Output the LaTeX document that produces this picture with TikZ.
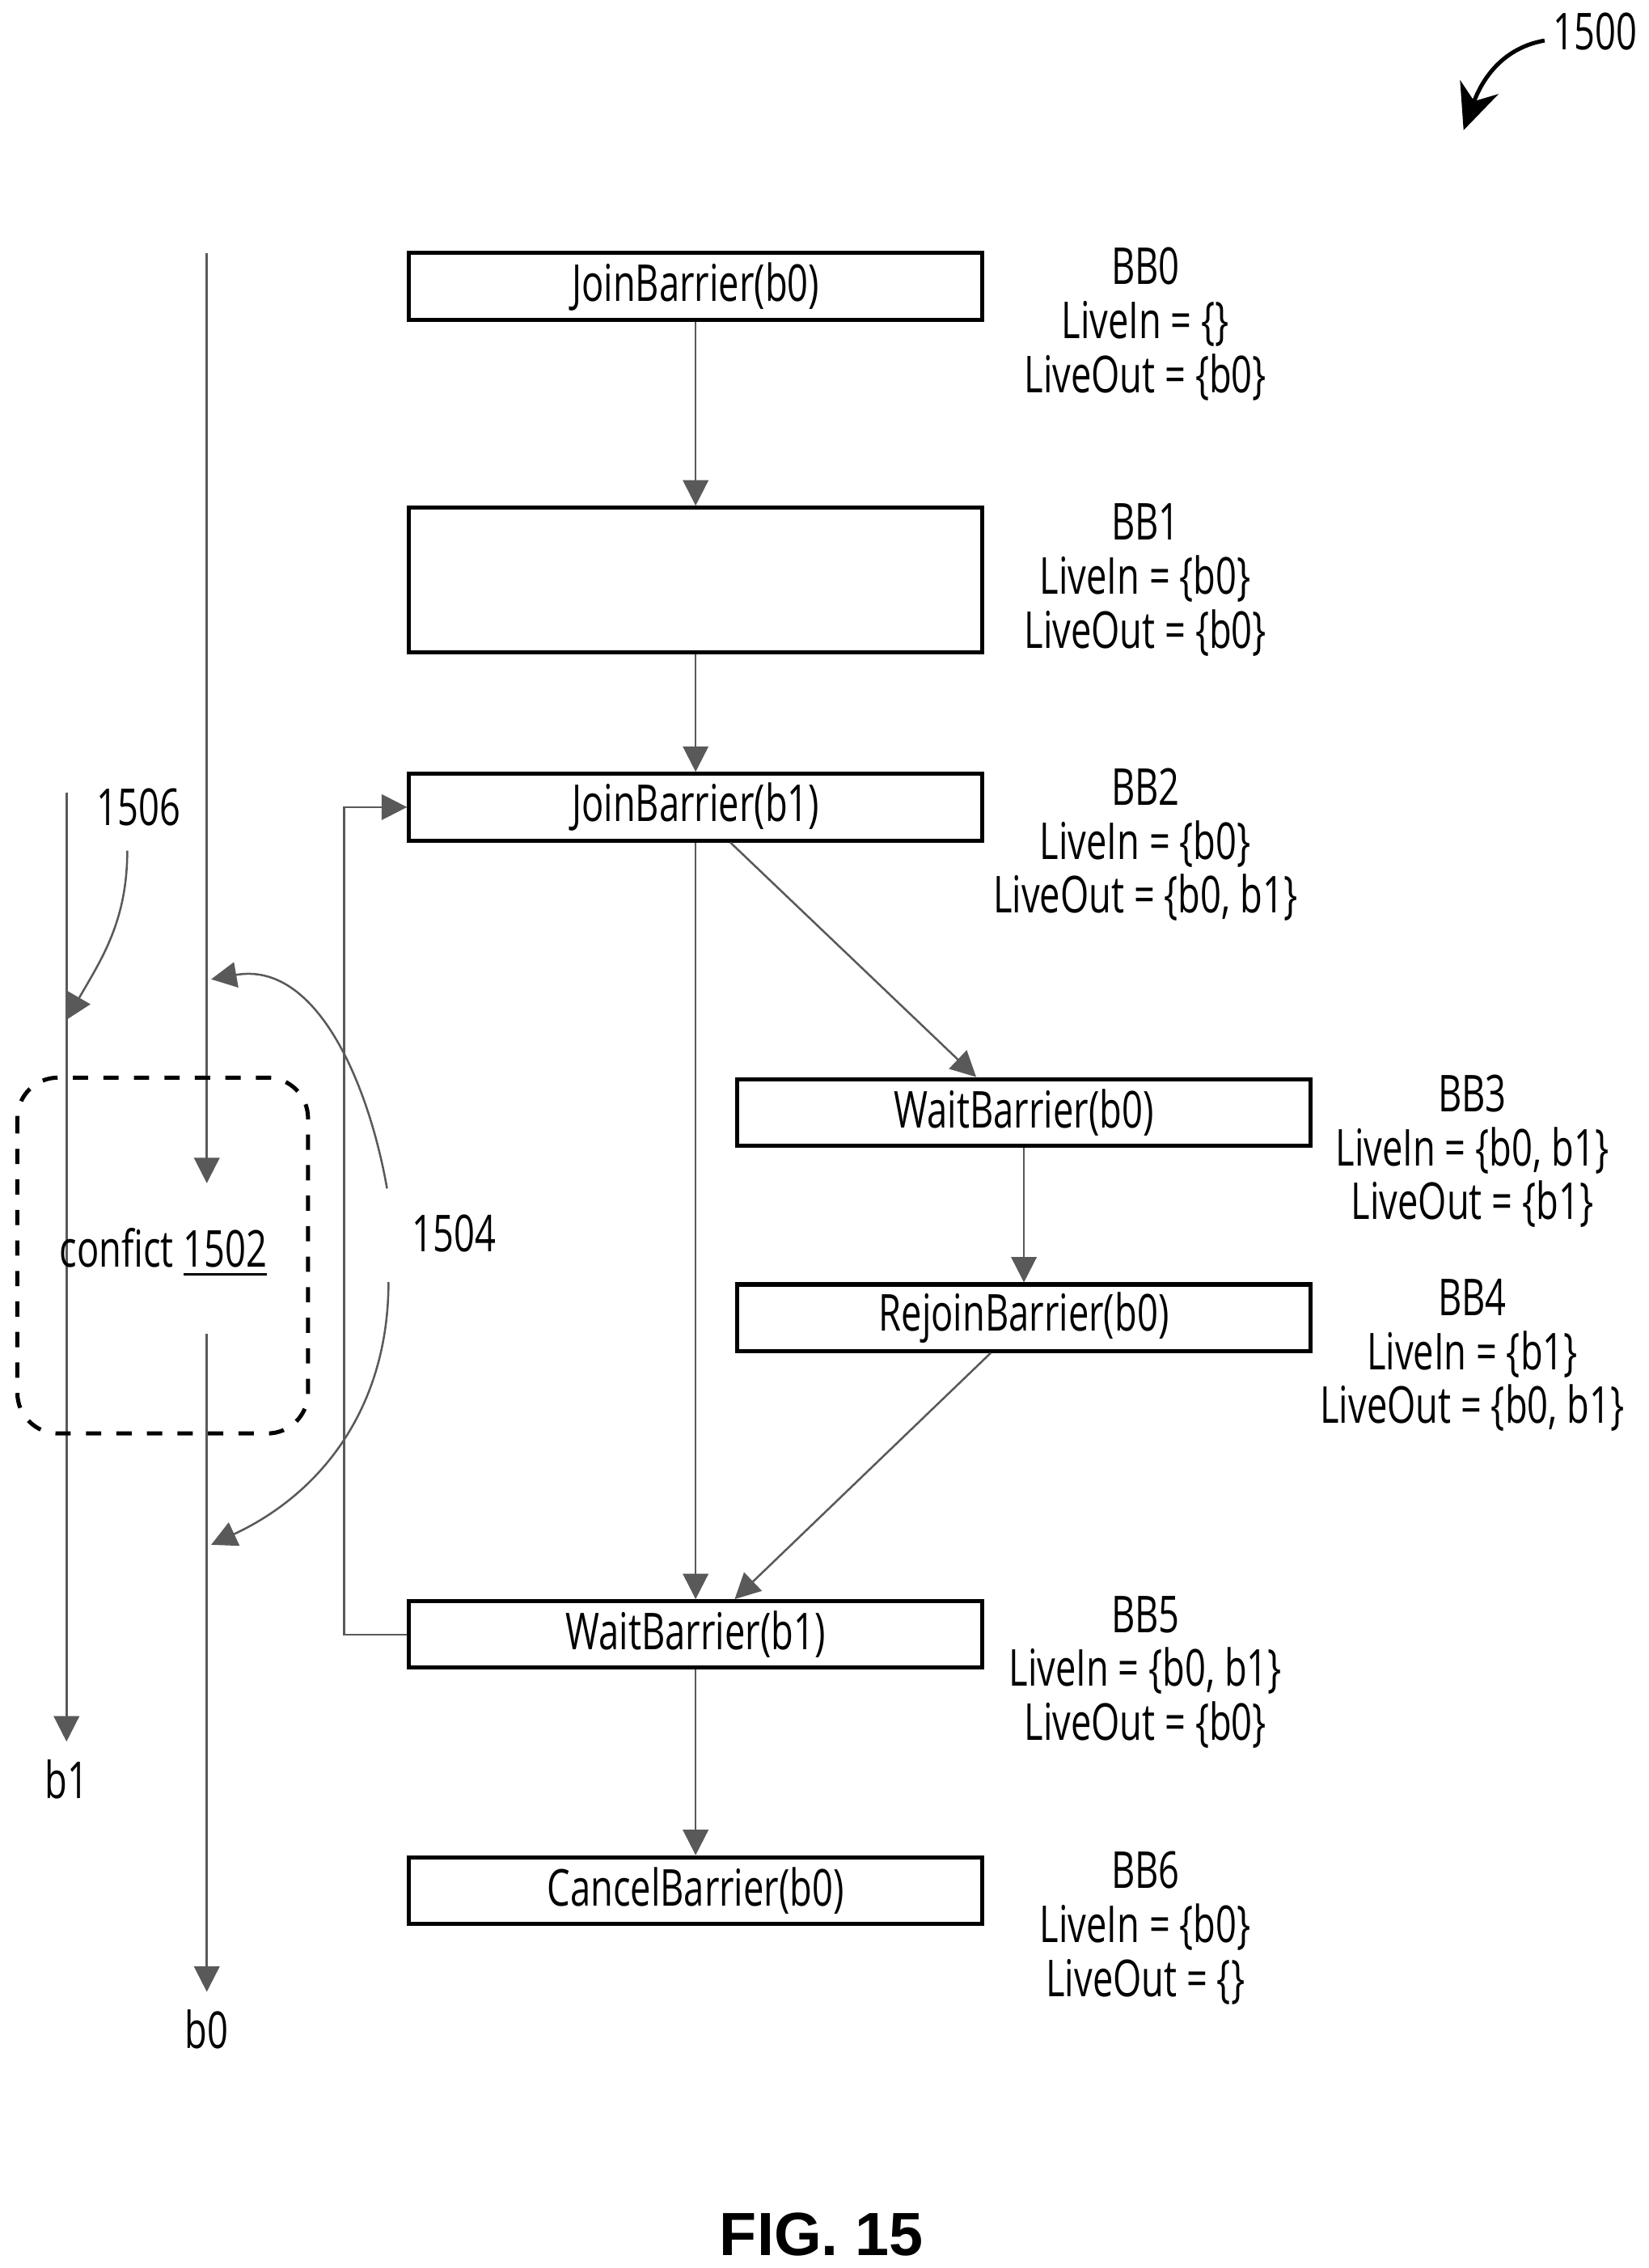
\documentclass[tikz,border=0pt]{standalone}
\usepackage{fontspec}
\setmainfont{Open Sans}[FakeStretch=0.72]
\newfontfamily\figfont{Liberation Sans}
\usetikzlibrary{arrows.meta}
\tikzset{
  blk/.style={draw, thick, minimum width=3.96cm, minimum height=0.46cm, inner sep=0pt},
  flow/.style={draw=black!65, -{Triangle[width=5pt,length=5pt]}},
  info/.style={align=center, font=\fontsize{10}{10.6}\selectfont},
}
\begin{document}
\begin{tikzpicture}[x=0.01cm, y=-0.01cm, font=\fontsize{10}{12}\selectfont]
  \useasboundingbox (0,0) rectangle (1140,1568);
  % Blocks
  \node[blk] (bb0) at (481,198) {JoinBarrier(b0)};
  \node[blk, minimum height=1cm] (bb1) at (481,401) {};
  \node[blk] (bb2) at (481,558) {JoinBarrier(b1)};
  \node[blk] (bb3) at (708,769) {WaitBarrier(b0)};
  \node[blk] (bb4) at (708,911) {RejoinBarrier(b0)};
  \node[blk] (bb5) at (481,1130) {WaitBarrier(b1)};
  \node[blk] (bb6) at (481,1307) {CancelBarrier(b0)};
  % Liveness
  \node[info] (l0) at (792,224) {BB0\\LiveIn = \{\}\\LiveOut = \{b0\}};
  \node[info] (l1) at (792,401) {BB1\\LiveIn = \{b0\}\\LiveOut = \{b0\}};
  \node[info] (l2) at (792,584) {BB2\\LiveIn = \{b0\}\\LiveOut = \{b0, b1\}};
  \node[info] (l3) at (1018,796) {BB3\\LiveIn = \{b0, b1\}\\LiveOut = \{b1\}};
  \node[info] (l4) at (1018,937) {BB4\\LiveIn = \{b1\}\\LiveOut = \{b0, b1\}};
  \node[info] (l5) at (792,1156) {BB5\\LiveIn = \{b0, b1\}\\LiveOut = \{b0\}};
  \node[info] (l6) at (792,1333) {BB6\\LiveIn = \{b0\}\\LiveOut = \{\}};
  % Edges
  \draw[flow] (bb0) -- (bb1);
  \draw[flow] (bb1) -- (bb2);
  \draw[flow] (bb2) -- (bb5);
  \draw[flow] (bb2.south) ++(24,0) coordinate (s2) -- (bb3.north -| 675,0);
  \draw[flow] (bb3) -- (bb4);
  \draw[flow] (bb4.south -| 685,0) -- (bb5.north -| 508,0);
  \draw[flow] (bb5) -- (bb6);
  \draw[flow] (bb5.west) -| (238,558) -- (bb2.west);
  % Lifetimes
  \coordinate (b0top) at (143,175);
  \coordinate (b0mid) at (143,818);
  \coordinate (b0low) at (143,922);
  \coordinate (b1top) at (46,548);
  \node (b0) at (143,1403) {b0};
  \node (b1) at (46,1230) {b1};
  \draw[flow] (b0top) -- (b0mid);
  \draw[flow] (b0low) -- (b0.north);
  \draw[flow] (b1top) -- (b1.north);
  \draw[thick, dashed, rounded corners=8pt] (12,745) rectangle (213,991);
  \node (conf) at (113,866) {confict \underline{1502}};
  % Callouts
  \node (c1506) at (96,558) {1506};
  \node (c1504) at (314,853) {1504};
  \node (c1500) at (1103,22) {1500};
  \draw[flow] (88,588) to[out=-90, in=60] (46,705);
  \draw[flow] (c1504.north west) ++(-5,-6) to[out=100, in=10] (146,677);
  \draw[flow] (c1504.south west) ++(-4,8) to[out=-90, in=25] (146,1068);
  \draw[thick, -{Stealth[length=9pt,width=8pt]}] (1068,28) to[out=190, in=70] (1012,90);
  \node[font=\figfont\bfseries\fontsize{12}{14}\selectfont] (fig) at (568,1545) {FIG. 15};
\end{tikzpicture}
\end{document}
